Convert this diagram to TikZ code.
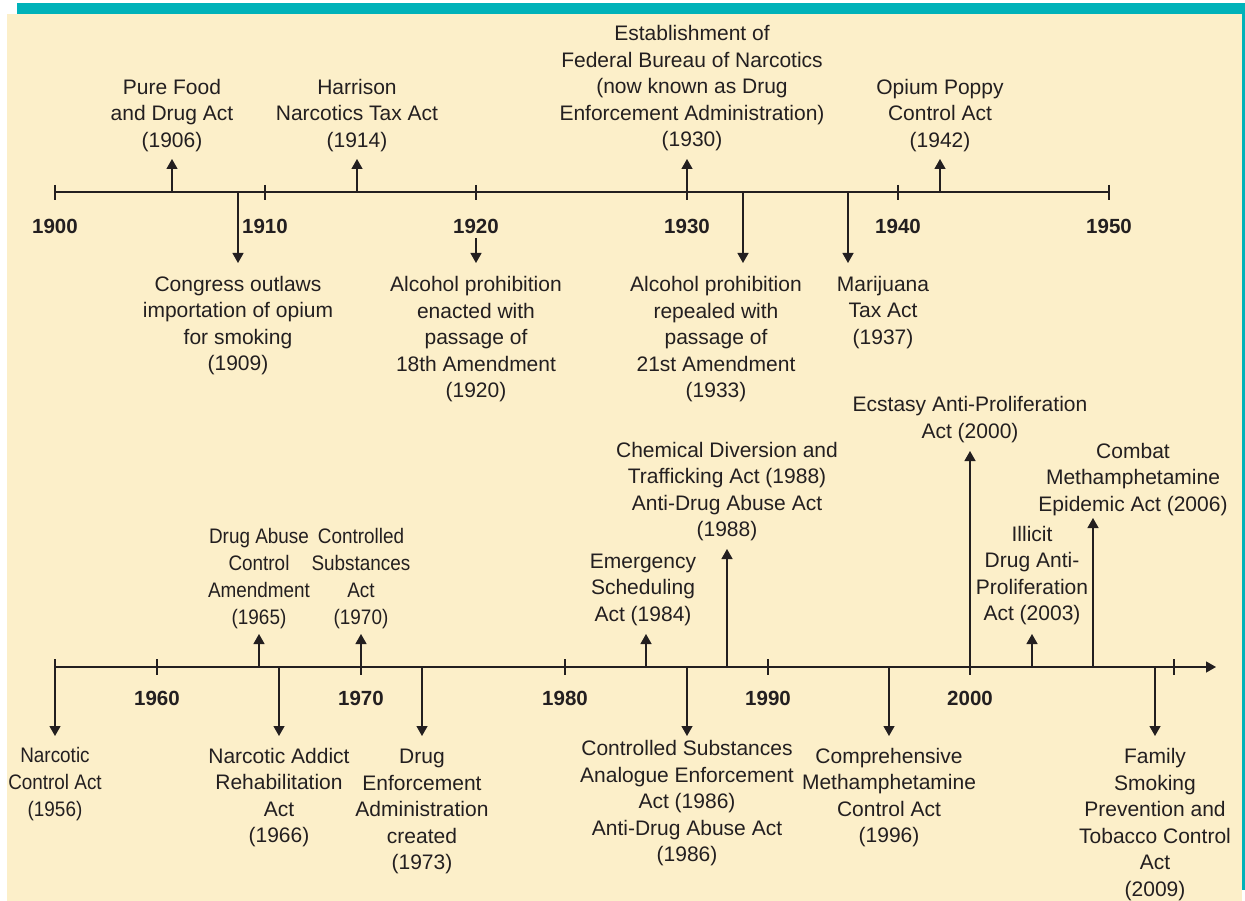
\documentclass[tikz,border=0pt]{standalone}
\usepackage{fontspec}
\setmainfont{Liberation Sans}
\newfontfamily\narrowfont[FakeStretch=0.9]{Liberation Sans}
\usetikzlibrary{arrows.meta}
\definecolor{tealbar}{RGB}{0,178,185}
\definecolor{paper}{RGB}{252,239,201}
\definecolor{ink}{RGB}{35,31,32}
\tikzset{
	axisline/.style={draw=ink, line width=1.3pt},
	evt/.style={draw=ink, line width=1.3pt, -{Triangle[width=11pt,length=10pt]}},
	lbl/.style={text=ink, align=center, inner sep=0pt, yshift=-2.5pt, font=\fontsize{21}{26.5}\selectfont},
	nlbl/.style={lbl, font=\fontsize{21}{27}\selectfont\narrowfont},
	yr/.style={text=ink, inner sep=0pt, font=\fontsize{20.5}{24}\selectfont\bfseries},
}

\begin{document}
\begin{tikzpicture}[x=1pt,y=-1pt]
			\useasboundingbox (0,0) rectangle (1245,901);
			\fill[white] (0,0) rectangle (1245,901);
			\fill[paper] (7,14) rectangle (1242,901);
			\fill[tealbar] (17,3) rectangle (1245,14);
			\fill[tealbar] (1242,14) rectangle (1245,890);
			% upper axis 1900--1950
			\coordinate (ta) at (55,192);
			\coordinate (tb) at (1109,192);
			\draw[axisline] (ta) -- (tb);
			\draw[axisline] (55,185) -- (55,200) (265,185) -- (265,200) (476,185) -- (476,200)
				(687,185) -- (687,200) (898,185) -- (898,200) (1109,185) -- (1109,200);
			\node   (y1900) at (55,226) [yr] {1900};
			\node   (y1910) at (265,226) [yr] {1910};
			\node   (y1920) at (476,226) [yr] {1920};
			\node   (y1930) at (687,226) [yr] {1930};
			\node   (y1940) at (898,226) [yr] {1940};
			\node   (y1950) at (1109,226) [yr] {1950};
			% lower axis
			\coordinate (ba) at (55,667);
			\coordinate (bb) at (1216,667);
			\draw[axisline] (55,659) -- (55,667) (157,659) -- (157,675) (361,659) -- (361,675) (565,659) -- (565,675)
				(768,659) -- (768,675) (970,659) -- (970,675) (1174,659) -- (1174,675);
			\node   (y1960) at (157,698) [yr] {1960};
			\node   (y1970) at (361,698) [yr] {1970};
			\node   (y1980) at (565,698) [yr] {1980};
			\node   (y1990) at (768,698) [yr] {1990};
			\node   (y2000) at (970,698) [yr] {2000};
			% upper events
			\coordinate (p1906) at (172,192);  \coordinate (q1906) at (172,159);
			\coordinate (p1909) at (238,192);  \coordinate (q1909) at (238,263);
			\coordinate (p1914) at (357,192);  \coordinate (q1914) at (357,159);
			\coordinate (p1920) at (476,238);  \coordinate (q1920) at (476,263);
			\coordinate (p1930) at (687,192);  \coordinate (q1930) at (687,159);
			\coordinate (p1933) at (743,192);  \coordinate (q1933) at (743,263);
			\coordinate (p1937) at (848,192);  \coordinate (q1937) at (848,263);
			\coordinate (p1942) at (940,192);  \coordinate (q1942) at (940,159);
			\node	(n1906) at (172,113) [lbl] {Pure Food\\and Drug Act\\(1906)};
			\node	(n1909) at (238,323) [lbl] {Congress outlaws\\importation of opium\\for smoking\\(1909)};
			\node	(n1914) at (357,113) [lbl] {Harrison\\Narcotics Tax Act\\(1914)};
			\node	(n1920) at (476,337) [lbl] {Alcohol prohibition\\enacted with\\passage of\\18th Amendment\\(1920)};
			\node	(n1930) at (692,86) [lbl] {Establishment of\\Federal Bureau of Narcotics\\(now known as Drug\\Enforcement Administration)\\(1930)};
			\node	(n1933) at (716,337) [lbl] {Alcohol prohibition\\repealed with\\passage of\\21st Amendment\\(1933)};
			\node	(n1937) at (883,310) [lbl] {Marijuana\\Tax Act\\(1937)};
			\node	(n1942) at (940,113) [lbl] {Opium Poppy\\Control Act\\(1942)};
			% lower events
			\coordinate (p1956) at (55,667);   \coordinate (q1956) at (55,736);
			\coordinate (p1965) at (259,667);  \coordinate (q1965) at (259,634);
			\coordinate (p1966) at (279,667);  \coordinate (q1966) at (279,736);
			\coordinate (p1970) at (361,667);  \coordinate (q1970) at (361,634);
			\coordinate (p1973) at (422,667);  \coordinate (q1973) at (422,736);
			\coordinate (p1984) at (646,667);  \coordinate (q1984) at (646,634);
			\coordinate (p1986) at (687,667);  \coordinate (q1986) at (687,736);
			\coordinate (p1988) at (727,667);  \coordinate (q1988) at (727,549);
			\coordinate (p1996) at (889,667);  \coordinate (q1996) at (889,736);
			\coordinate (p2000) at (970,667);  \coordinate (q2000) at (970,451);
			\coordinate (p2003) at (1032,667); \coordinate (q2003) at (1032,634);
			\coordinate (p2006) at (1093,667); \coordinate (q2006) at (1093,518);
			\coordinate (p2009) at (1155,667); \coordinate (q2009) at (1155,736);
			\node	(n1956) at (55,782) [nlbl] {Narcotic\\Control Act\\(1956)};
			\node	(n1965) at (259,576) [nlbl] {Drug Abuse\\Control\\Amendment\\(1965)};
			\node	(n1966) at (279,795) [lbl] {Narcotic Addict\\Rehabilitation\\Act\\(1966)};
			\node	(n1970) at (361,576) [nlbl] {Controlled\\Substances\\Act\\(1970)};
			\node	(n1973) at (422,809) [lbl] {Drug\\Enforcement\\Administration\\created\\(1973)};
			\node	(n1984) at (643,587) [lbl] {Emergency\\Scheduling\\Act (1984)};
			\node	(n1986) at (687,801) [lbl] {Controlled Substances\\Analogue Enforcement\\Act (1986)\\Anti-Drug Abuse Act\\(1986)};
			\node	(n1988) at (727,489) [lbl] {Chemical Diversion and\\Trafficking Act (1988)\\Anti-Drug Abuse Act\\(1988)};
			\node	(n1996) at (889,795) [lbl] {Comprehensive\\Methamphetamine\\Control Act\\(1996)};
			\node	(n2000) at (970,417) [lbl] {Ecstasy Anti-Proliferation\\Act (2000)};
			\node	(n2003) at (1032,573) [lbl] {Illicit\\Drug Anti-\\Proliferation\\Act (2003)};
			\node	(n2006) at (1133,477) [lbl] {Combat\\Methamphetamine\\Epidemic Act (2006)};
			\node	(n2009) at (1155,822) [lbl] {Family\\Smoking\\Prevention and\\Tobacco Control\\Act\\(2009)};
			\draw
			(ba) edge[evt] (bb)
			(p1906) edge[evt] (q1906)
			(p1909) edge[evt] (q1909)
			(p1914) edge[evt] (q1914)
			(p1920) edge[evt] (q1920)
			(p1930) edge[evt] (q1930)
			(p1933) edge[evt] (q1933)
			(p1937) edge[evt] (q1937)
			(p1942) edge[evt] (q1942)
			(p1956) edge[evt] (q1956)
			(p1965) edge[evt] (q1965)
			(p1966) edge[evt] (q1966)
			(p1970) edge[evt] (q1970)
			(p1973) edge[evt] (q1973)
			(p1984) edge[evt] (q1984)
			(p1986) edge[evt] (q1986)
			(p1988) edge[evt] (q1988)
			(p1996) edge[evt] (q1996)
			(p2000) edge[evt] (q2000)
			(p2003) edge[evt] (q2003)
			(p2006) edge[evt] (q2006)
			(p2009) edge[evt] (q2009)
			;
\end{tikzpicture}
\end{document}
